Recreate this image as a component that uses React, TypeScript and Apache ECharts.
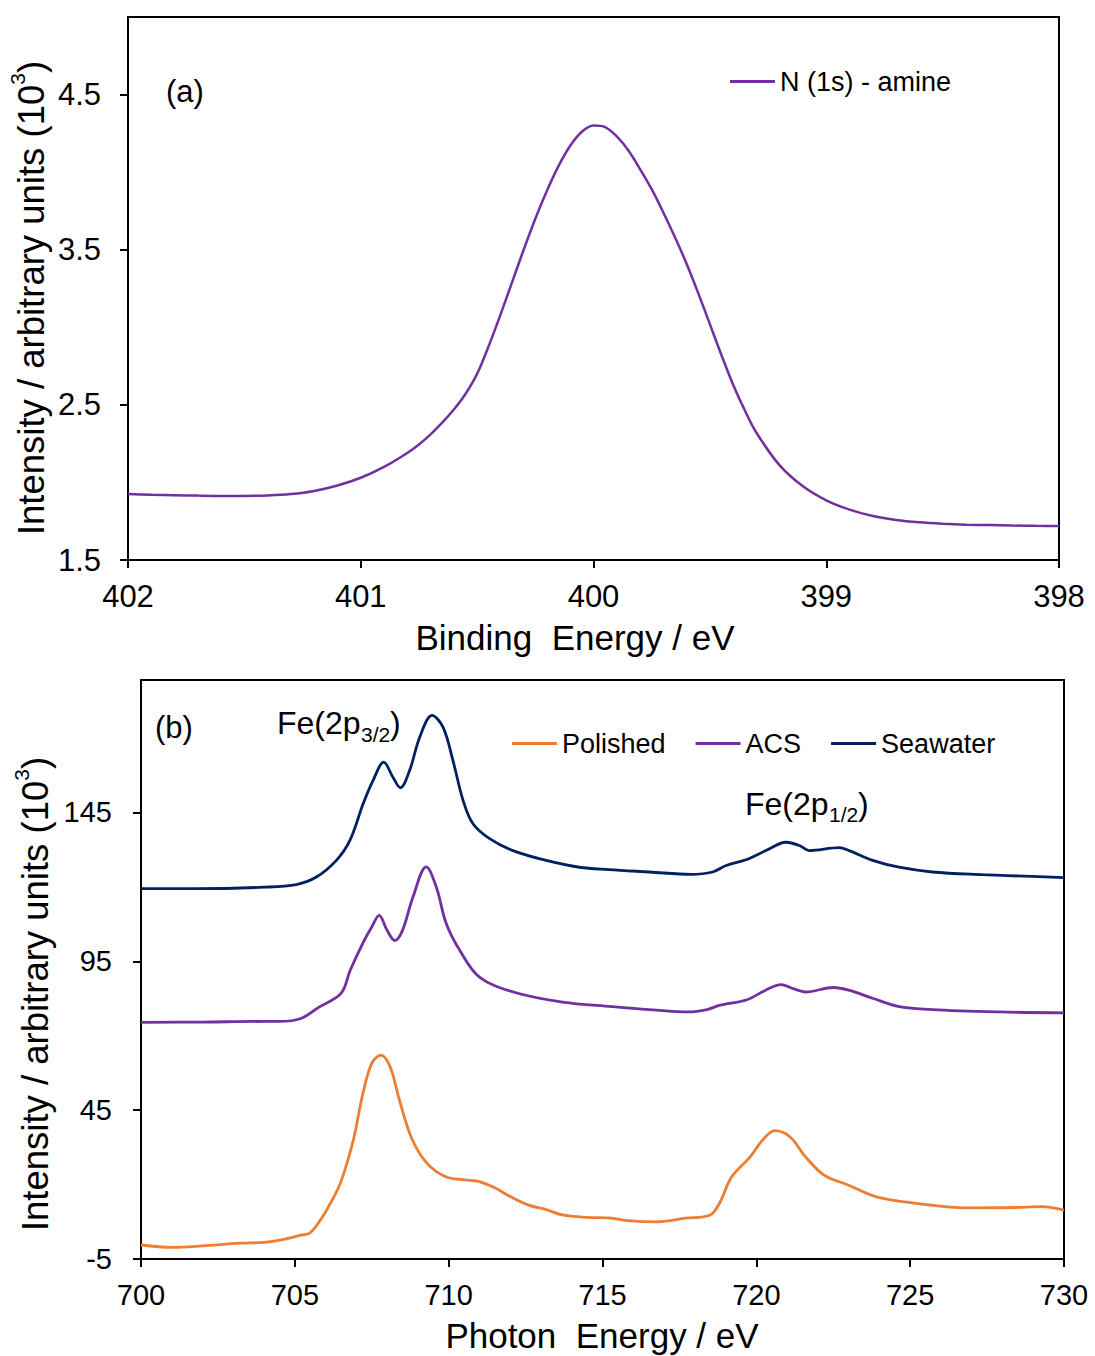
import React, { useEffect, useRef } from "react";
import * as echarts from "echarts";

const FONT = "'Liberation Sans', Arial, Helvetica, sans-serif";

// Panel (a): N 1s – binding energy (eV) vs intensity (10^3)
const nE = [402.0, 401.9, 401.8, 401.7, 401.6, 401.5, 401.4, 401.3, 401.2, 401.1, 401.0, 400.9, 400.8, 400.75, 400.7, 400.65, 400.6, 400.55, 400.5, 400.45, 400.4, 400.35, 400.3, 400.25, 400.2, 400.15, 400.1, 400.05, 400.0, 399.95, 399.9, 399.85, 399.8, 399.75, 399.7, 399.65, 399.6, 399.55, 399.5, 399.45, 399.4, 399.35, 399.3, 399.2, 399.1, 399.0, 398.9, 398.8, 398.7, 398.6, 398.5, 398.4, 398.3, 398.2, 398.1, 398.0];
const nI = [1.925, 1.921, 1.918, 1.915, 1.913, 1.913, 1.916, 1.925, 1.945, 1.98, 2.03, 2.1, 2.19, 2.245, 2.31, 2.385, 2.47, 2.57, 2.7, 2.88, 3.08, 3.29, 3.5, 3.7, 3.88, 4.04, 4.17, 4.26, 4.3, 4.29, 4.23, 4.14, 4.02, 3.89, 3.74, 3.58, 3.41, 3.22, 3.02, 2.82, 2.63, 2.465, 2.32, 2.11, 1.975, 1.885, 1.825, 1.784, 1.758, 1.743, 1.734, 1.728, 1.725, 1.722, 1.72, 1.719];

// Panel (b): Fe 2p – photon energy (eV) vs intensity (10^3)
const polE = [700.0, 701.0, 702.0, 703.2, 704.0, 704.6, 705.2, 705.5, 705.9, 706.2, 706.5, 706.9, 707.2, 707.5, 707.8, 708.1, 708.4, 708.8, 709.3, 709.9, 710.5, 711.0, 711.5, 712.0, 712.6, 713.2, 713.7, 714.5, 715.3, 715.8, 716.8, 717.7, 718.5, 718.8, 719.2, 719.8, 720.2, 720.6, 721.1, 721.6, 722.2, 723.0, 723.9, 725.2, 726.8, 728.4, 729.3, 730.0];
const polI = [-0.3, -1.1, -0.6, 0.3, 0.6, 1.5, 3.0, 3.8, 9.2, 14.5, 21.0, 34.9, 50.0, 60.7, 63.5, 59.5, 48.4, 35.5, 27.1, 22.6, 21.6, 21.0, 18.9, 16.0, 13.1, 11.5, 9.8, 9.0, 8.7, 7.9, 7.5, 8.7, 9.8, 13.7, 22.6, 29.3, 34.9, 38.1, 36.0, 29.3, 23.2, 19.8, 15.9, 13.7, 12.2, 12.3, 12.6, 11.4];

const acsE = [700.0, 702.0, 704.0, 704.5, 705.2, 705.8, 706.5, 706.8, 707.2, 707.5, 707.74, 708.0, 708.25, 708.5, 708.84, 709.27, 709.6, 709.92, 710.36, 711.0, 712.1, 713.7, 715.3, 716.5, 717.8, 718.4, 718.8, 719.7, 720.3, 720.8, 721.2, 721.6, 722.5, 723.0, 723.8, 724.6, 725.7, 727.9, 730.0];
const acsI = [74.5, 74.6, 74.8, 74.8, 75.8, 79.7, 84.2, 92.0, 100.9, 106.5, 110.4, 105.4, 102.0, 105.4, 116.6, 126.7, 119.9, 107.7, 98.7, 89.7, 84.7, 81.3, 79.8, 78.8, 78.0, 78.8, 80.2, 82.1, 85.3, 87.2, 85.8, 84.7, 86.2, 85.3, 82.5, 79.9, 78.8, 78.0, 77.7];

const seaE = [700.0, 701.8, 704.0, 705.05, 705.7, 706.35, 706.79, 707.22, 707.54, 707.89, 708.19, 708.43, 708.73, 709.06, 709.46, 709.82, 710.14, 710.47, 710.79, 711.33, 712.09, 713.17, 714.25, 715.2, 716.53, 717.88, 718.58, 719.02, 719.66, 720.31, 720.96, 721.4, 721.72, 722.69, 723.02, 723.78, 724.64, 725.72, 727.35, 728.97, 730.0];
const seaI = [119.4, 119.4, 119.9, 120.8, 123.3, 128.9, 135.6, 147.9, 155.7, 161.9, 156.8, 153.3, 159.1, 170.3, 177.6, 173.6, 162.4, 149.0, 141.2, 136.2, 132.2, 128.9, 126.6, 125.8, 125.0, 124.2, 125.0, 127.2, 129.1, 132.2, 135.0, 133.9, 132.2, 133.2, 132.2, 128.9, 126.6, 125.0, 124.1, 123.5, 123.1];

const yTicksA = [1.5, 2.5, 3.5, 4.5];
const yTicksB = [-5, 45, 95, 145];

const pairs = (xs: number[], ys: number[]) => xs.map((x, i) => [x, ys[i]]);

const axisCommon = {
  axisLine: { show: true, onZero: false, lineStyle: { color: "#000", width: 2 } },
  axisTick: { show: true, inside: false, length: 8, lineStyle: { color: "#000", width: 2 } },
  splitLine: { show: false },
};

const txt = (x: number, y: number, text: string, fontSize: number, extra: any = {}) => ({
  type: "text", x, y,
  style: { text, fontSize, fontFamily: FONT, fill: "#000", textVerticalAlign: "middle", ...extra },
});

const yTitle = (x: number, y: number) => ({
  type: "text", x, y, rotation: Math.PI / 2,
  style: {
    text: "{m|Intensity / arbitrary units (10}{s|3}{m|)}", fontFamily: FONT, fill: "#000", textAlign: "center", textVerticalAlign: "middle",
    rich: { m: { fontSize: 36.5, lineHeight: 48, fontFamily: FONT }, s: { fontSize: 21, lineHeight: 21, verticalAlign: "top", fontFamily: FONT } },
  },
});

export default function App() {
  const ref = useRef<HTMLDivElement>(null);
  useEffect(() => {
    if (!ref.current) return;
    const chart = echarts.init(ref.current, null, { renderer: "svg" });
    const line = (name: string, xi: number, xs: number[], ys: number[], color: string, width: number, smooth: number) => ({
      name, type: "line", xAxisIndex: xi, yAxisIndex: xi, data: pairs(xs, ys),
      showSymbol: false, smooth, lineStyle: { color, width }, itemStyle: { color },
    });
    const option: any = {
      animation: false,
      backgroundColor: "#fff",
      textStyle: { fontFamily: FONT, color: "#000" },
      grid: [
        { left: 128, top: 17, width: 931, height: 543, show: true, borderColor: "#000", borderWidth: 2, backgroundColor: "transparent" },
        { left: 141, top: 680, width: 923, height: 579, show: true, borderColor: "#000", borderWidth: 2, backgroundColor: "transparent" },
      ],
      xAxis: [
        {
          ...axisCommon,
          type: "value", gridIndex: 0, min: 398, max: 402, interval: 1, inverse: true,
          axisLabel: { color: "#000", fontSize: 31, margin: 21, fontFamily: FONT },
        },
        {
          ...axisCommon,
          type: "value", gridIndex: 1, min: 700, max: 730, interval: 5,
          axisLabel: { color: "#000", fontSize: 29, margin: 21, fontFamily: FONT },
        },
      ],
      yAxis: [
        {
          ...axisCommon,
          type: "value", gridIndex: 0, min: 1.5, max: 5, interval: 1,
          axisTick: { ...axisCommon.axisTick, customValues: yTicksA },
          axisLabel: { color: "#000", fontSize: 31, margin: 27, fontFamily: FONT, customValues: yTicksA, formatter: (v: number) => v.toFixed(1) },
        },
        {
          ...axisCommon,
          type: "value", gridIndex: 1, min: -5, max: 189.5, interval: 50,
          axisTick: { ...axisCommon.axisTick, customValues: yTicksB },
          axisLabel: { color: "#000", fontSize: 29, margin: 29, fontFamily: FONT, customValues: yTicksB, formatter: (v: number) => String(v) },
        },
      ],
      legend: [
        {
          data: ["N (1s) - amine"], left: 725, top: 63, icon: "rect", itemWidth: 45, itemHeight: 3,
          selectedMode: false, textStyle: { fontSize: 27, color: "#000", fontFamily: FONT },
        },
        {
          data: ["Polished", "ACS", "Seawater"], left: 507, top: 725, icon: "rect", itemWidth: 45, itemHeight: 3, itemGap: 30,
          selectedMode: false, textStyle: { fontSize: 27, color: "#000", fontFamily: FONT },
        },
      ],
      series: [
        line("N (1s) - amine", 0, nE, nI, "#7030A0", 2.5, 0.3),
        line("Polished", 1, polE, polI, "#ED7D31", 2.8, 0.35),
        line("ACS", 1, acsE, acsI, "#7030A0", 2.8, 0.35),
        line("Seawater", 1, seaE, seaI, "#002060", 2.8, 0.35),
      ],
      graphic: [
        txt(166, 91, "(a)", 31),
        txt(155, 727, "(b)", 31),
        txt(277, 723, "Fe(2p", 32),
        txt(361, 734, "3/2", 21),
        txt(390, 723, ")", 32),
        txt(745, 804, "Fe(2p", 32),
        txt(829, 814, "1/2", 21),
        txt(858, 804, ")", 32),
        txt(575, 637, "Binding  Energy / eV", 35, { textAlign: "center" }),
        txt(602, 1335, "Photon  Energy / eV", 35, { textAlign: "center" }),
        yTitle(31, 298),
        yTitle(35, 994),
      ],
    };
    chart.setOption(option);
    return () => chart.dispose();
  }, []);
  return <div ref={ref} style={{ position: "absolute", left: 0, top: 0, width: 1095, height: 1356, background: "#fff" }} />;
}
